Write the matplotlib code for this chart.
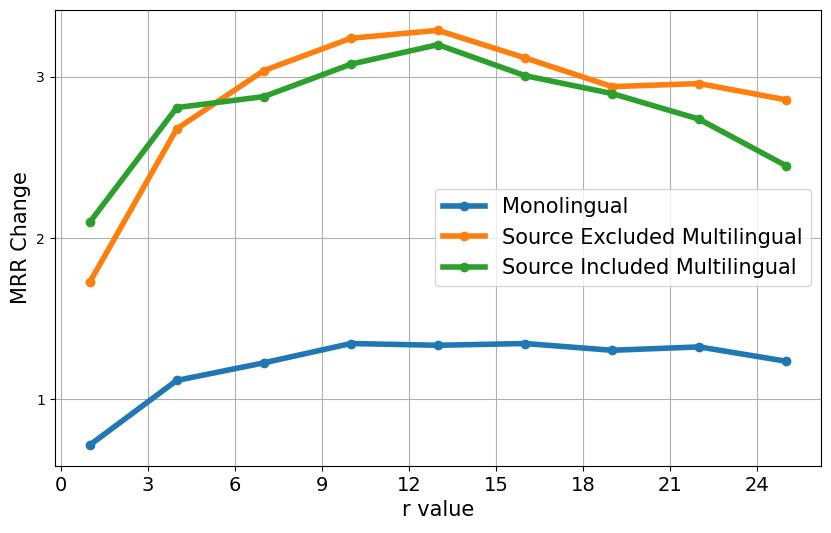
import matplotlib
matplotlib.use("Agg")
import matplotlib.pyplot as plt

# r values on x axis
r_values = [1, 4, 7, 10, 13, 16, 19, 22, 25]

# MRR change per setting
monolingual = [0.717, 1.118, 1.227, 1.347, 1.336, 1.347, 1.305, 1.326, 1.237]
source_excluded = [1.726, 2.678, 3.039, 3.240, 3.289, 3.118, 2.940, 2.959, 2.858]
source_included = [2.098, 2.810, 2.878, 3.079, 3.200, 3.008, 2.897, 2.738, 2.449]

x_ticks = [0, 3, 6, 9, 12, 15, 18, 21, 24]
y_ticks = [1, 2, 3]

fig, ax = plt.subplots(figsize=(8.31, 5.33), dpi=100)
fig.subplots_adjust(left=0.066, right=0.988, top=0.982, bottom=0.126)

ax.plot(r_values, monolingual, marker='o', linewidth=4, markersize=6, label='Monolingual')
ax.plot(r_values, source_excluded, marker='o', linewidth=4, markersize=6, label='Source Excluded Multilingual')
ax.plot(r_values, source_included, marker='o', linewidth=4, markersize=6, label='Source Included Multilingual')

ax.set_xticks(x_ticks)
ax.set_yticks(y_ticks)
ax.tick_params(axis='x', labelsize=14)
ax.tick_params(axis='y', labelsize=10)
ax.set_xlabel("r value", fontsize=15)
ax.set_ylabel("MRR Change", fontsize=15)
ax.grid(True)
ax.legend(loc='center right', fontsize=15)

fig.savefig("out.png", dpi=100)
